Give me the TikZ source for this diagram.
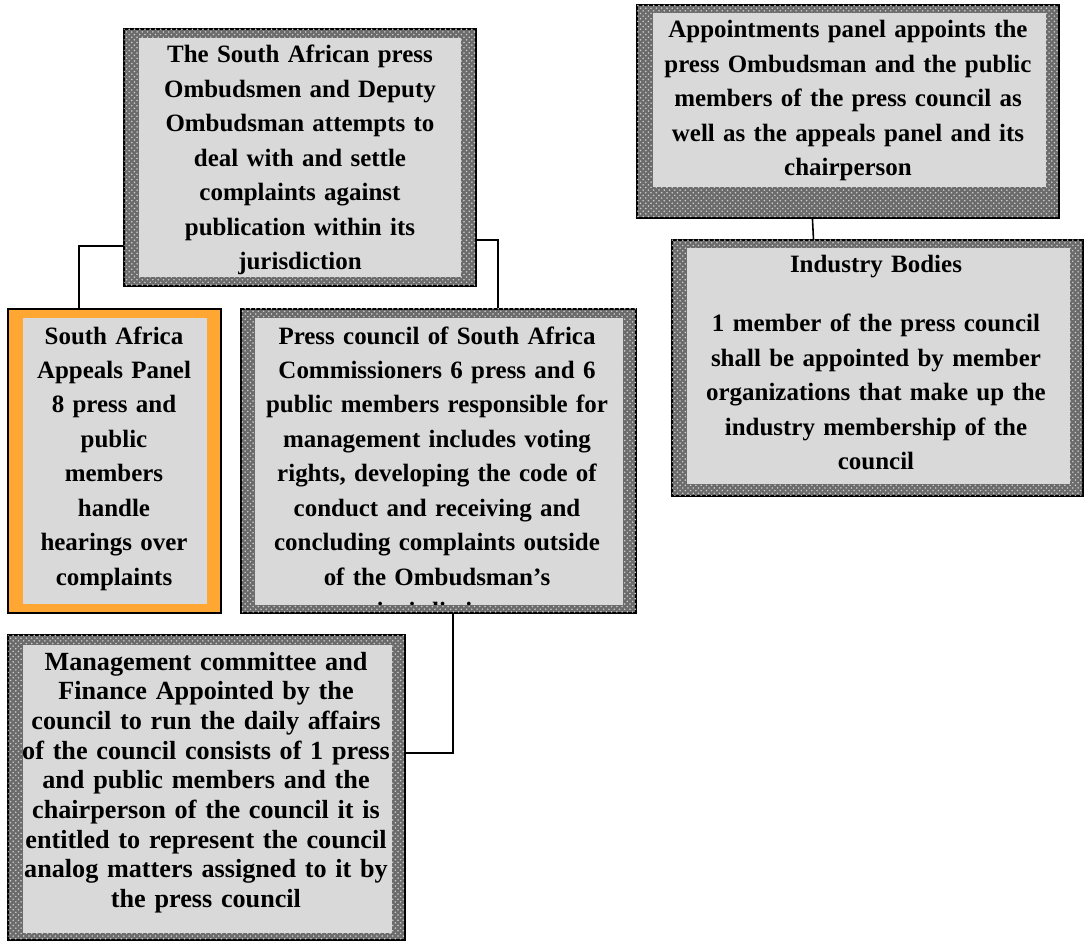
\documentclass[tikz,border=0pt]{standalone}
\usepackage{fontspec}
\setmainfont{Liberation Serif}
\usetikzlibrary{positioning, calc, patterns}

\definecolor{panelorange}{RGB}{255,166,51}

\begin{document}
\begin{tikzpicture}[
            panel/.style = {rectangle, draw=black, line width=1.1pt, anchor=north west, inner sep=0pt},
            hatched/.style = {fill=black!58, postaction={pattern=crosshatch dots, pattern color=white!80!black}},
            inside/.style = {fill=gray!30},
            txt/.style = {align=center, text width=9cm, inner sep=0pt, anchor=base,
                    font=\bfseries\fontsize{14.2}{19.6}\selectfont},
            link/.style = {draw=black, line width=0.9pt}
        ]
        \useasboundingbox (0,0) rectangle (21.76,-18.88);

        % frames
        \node (omb)     [panel, hatched, minimum width=7.04cm, minimum height=5.14cm] at (2.46,-0.56) {};
        \node (appt)    [panel, hatched, minimum width=8.44cm, minimum height=4.26cm] at (12.72,-0.08) {};
        \node (ind)     [panel, hatched, minimum width=8.22cm, minimum height=5.12cm] at (13.42,-4.78) {};
        \node (appeal)  [panel, fill=panelorange, minimum width=4.26cm, minimum height=6.08cm] at (0.14,-6.16) {};
        \node (council) [panel, hatched, minimum width=7.90cm, minimum height=6.08cm] at (4.80,-6.16) {};
        \node (mgmt)    [panel, hatched, minimum width=7.94cm, minimum height=6.10cm] at (0.14,-12.68) {};

        % inner panels
        \fill[inside] ($(omb.north west)+(0.32,-0.2)$) rectangle ($(omb.south east)+(-0.32,0.2)$);
        \fill[inside] ($(appt.north west)+(0.34,-0.18)$) rectangle ($(appt.south east)+(-0.28,0.64)$);
        \fill[inside] ($(ind.north west)+(0.32,-0.18)$) rectangle ($(ind.south east)+(-0.28,0.26)$);
        \fill[inside] ($(mgmt.north west)+(0.32,-0.22)$) rectangle ($(mgmt.south east)+(-0.28,0.16)$);
        \fill[inside] ($(appeal.north west)+(0.32,-0.2)$) rectangle ($(appeal.south east)+(-0.3,0.2)$);
        \fill[inside] ($(council.north west)+(0.3,-0.2)$) rectangle ($(council.south east)+(-0.28,0.18)$);

        \node (ombtxt)  [txt] at (6.0,-1.26) {The South African press\\ Ombudsmen and Deputy\\ Ombudsman attempts to\\ deal with and settle\\ complaints against\\ publication within its\\ jurisdiction};
        \node (appttxt) [txt] at (16.96,-0.76) {Appointments panel appoints the\\ press Ombudsman and the public\\ members of the press council as\\ well as the appeals panel and its\\ chairperson};
        \node (indtxt)  [txt] at (17.52,-5.44) {Industry Bodies\\[14.5pt] 1 member of the press council\\ shall be appointed by member\\ organizations that make up the\\ industry membership of the\\ council};
        \node (mgmttxt) [txt, font=\bfseries\fontsize{14.9}{16.9}\selectfont] at (4.12,-13.4) {Management committee and\\ Finance Appointed by the\\ council to run the daily affairs\\ of the council consists of 1 press\\ and public members and the\\ chairperson of the council it is\\ entitled to represent the council\\ analog matters assigned to it by\\ the press council};

        \begin{scope}
            \clip ($(appeal.north west)+(0.32,-0.2)$) rectangle ($(appeal.south east)+(-0.3,0.2)$);
            \node (appealtxt) [txt] at (2.28,-6.88) {South Africa\\ Appeals Panel\\ 8 press and\\ public\\ members\\ handle\\ hearings over\\ complaints};
        \end{scope}
        \begin{scope}
            \clip ($(council.north west)+(0.3,-0.2)$) rectangle ($(council.south east)+(-0.28,0.18)$);
            \node (counciltxt) [txt] at (8.74,-6.88) {Press council of South Africa\\ Commissioners 6 press and 6\\ public members responsible for\\ management includes voting\\ rights, developing the code of\\ conduct and receiving and\\ concluding complaints outside\\ of the Ombudsman’s\\ jurisdiction};
        \end{scope}

        % connectors
        \draw[link] ([yshift=0.82cm]omb.south west) -| ([xshift=-0.71cm]appeal.north);
        \draw[link] ([yshift=0.94cm]omb.south east) -| ([xshift=1.19cm]council.north);
        \draw[link] ([xshift=-0.71cm]appt.south) -- ([xshift=-1.28cm]ind.north);
        \draw[link] ([xshift=0.29cm]council.south) |- ([yshift=0.69cm]mgmt.east);
    \end{tikzpicture}
\end{document}
